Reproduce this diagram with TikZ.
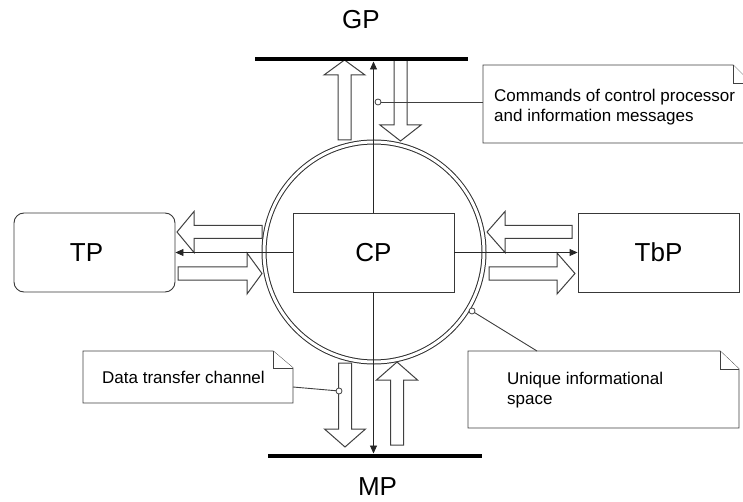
\documentclass[tikz,border=0pt]{standalone}
\usepackage{fontspec}
\setmainfont{Liberation Sans}
\usetikzlibrary{arrows.meta}
\newcommand{\hblock}[4]{% tail x, head base x, tip x, centre y
  \draw[blk] (#1,#4-6.5) -- (#2,#4-6.5) -- (#2,#4-20.5) -- (#3,#4) -- (#2,#4+20.5) -- (#2,#4+6.5) -- (#1,#4+6.5) -- cycle;}
\newcommand{\vblock}[4]{% tail y, head base y, tip y, centre x
  \draw[blk] (#4-6.5,#1) -- (#4-6.5,#2) -- (#4-20.5,#2) -- (#4,#3) -- (#4+20.5,#2) -- (#4+6.5,#2) -- (#4+6.5,#1) -- cycle;}
\begin{document}
\begin{tikzpicture}[x=1pt,y=-1pt,
  blk/.style={draw=black!75, fill=white, line width=1pt, line join=miter},
  boxst/.style={draw=black!78, fill=white, line width=0.9pt, minimum width=161pt, minimum height=79pt, inner sep=0pt, font=\fontsize{26}{30}\selectfont},
  bar/.style={line width=4pt, draw=black},
  conn/.style={draw=black!85, line width=0.9pt, -{Triangle[length=8pt,width=7pt]}},
  big/.style={font=\fontsize{26}{30}\selectfont, inner sep=0pt},
  notetext/.style={font=\fontsize{17}{20}\selectfont, align=left, anchor=west, inner sep=0pt},
  note/.style={draw=black!75, fill=white, line width=0.9pt, line join=miter},
  lead/.style={draw=black!75, line width=0.9pt},
  dot/.style={draw=black!75, fill=white, line width=0.8pt}
]
\useasboundingbox (0,0) rectangle (743,502);
\clip (0,0) rectangle (743,502);

% block arrows
\vblock{140}{75}{60}{344.5}
\vblock{60}{125}{141}{400.5}
\vblock{363}{429}{447}{345}
\vblock{445}{380}{362}{397}
\hblock{262}{194}{177}{232}
\hblock{178}{247}{262}{273.5}
\hblock{572}{505}{487}{232}
\hblock{489}{557}{575}{273.5}

% unique informational space ring
\node[circle, draw=black!82, line width=1pt, double=white, double distance=3pt,
      minimum size=220pt, inner sep=0pt] (ring) at (374,252) {};

% processors
\node[boxst] (CP) at (373.5,252.5) {CP};
\node[boxst, rounded corners=10pt] (TP) at (94.5,252.5) {\hspace*{-16pt}TP};
\node[boxst] (TbP) at (658.5,252.5) {TbP};

% buses
\coordinate (gpL) at (255,59);
\coordinate (gpR) at (468,59);
\coordinate (mpL) at (268,455.5);
\coordinate (mpR) at (482,455.5);
\draw[bar] (gpL) -- (gpR);
\draw[bar] (mpL) -- (mpR);
\node[big] (GP) at (361,20) {GP};
\node[big] (MP) at (377.5,487) {MP};

% connectors
\coordinate (gpT) at (373.5,61.5);
\coordinate (mpT) at (373.5,453.5);
\draw[conn] (CP.north) -- (gpT);
\draw[conn] (CP.south) -- (mpT);
\draw[conn] (CP.west) -- (TP.east);
\draw[conn] (CP.east) -- (TbP.west);

% callout: commands
\draw[note] (483,65) -- (733,65) -- (751,83) -- (751,143) -- (483,143) -- cycle;
\draw[note] (733,65) -- (733,83) -- (751,83);
\node[notetext] (cmd) at (494,107.5) {Commands of control processor\\and information messages};
\coordinate (cmdA) at (378,102);
\coordinate (cmdB) at (483,102);
\draw[lead] (cmdA) -- (cmdB);
\node[circle, dot, minimum size=6pt, inner sep=0pt] (cmdDot) at (cmdA) {};

% callout: data transfer channel
\draw[note] (83,351) -- (273,351) -- (293,368) -- (293,403) -- (83,403) -- cycle;
\draw[note] (273,351) -- (273,368) -- (293,368);
\node[notetext] (dtc) at (102,377) {Data transfer channel};
\coordinate (dtcA) at (339,391);
\coordinate (dtcB) at (293,387);
\draw[lead] (dtcA) -- (dtcB);
\node[circle, dot, minimum size=6pt, inner sep=0pt] (dtcDot) at (dtcA) {};

% callout: unique informational space
\draw[note] (468,351) -- (720,351) -- (739,369) -- (739,428) -- (468,428) -- cycle;
\draw[note] (720,351) -- (720,369) -- (739,369);
\node[notetext] (uis) at (507,390) {Unique informational\\space};
\coordinate (uisA) at (472,311);
\coordinate (uisB) at (537,351);
\draw[lead] (uisA) -- (uisB);
\node[circle, dot, minimum size=6pt, inner sep=0pt] (uisDot) at (uisA) {};
\end{tikzpicture}
\end{document}
